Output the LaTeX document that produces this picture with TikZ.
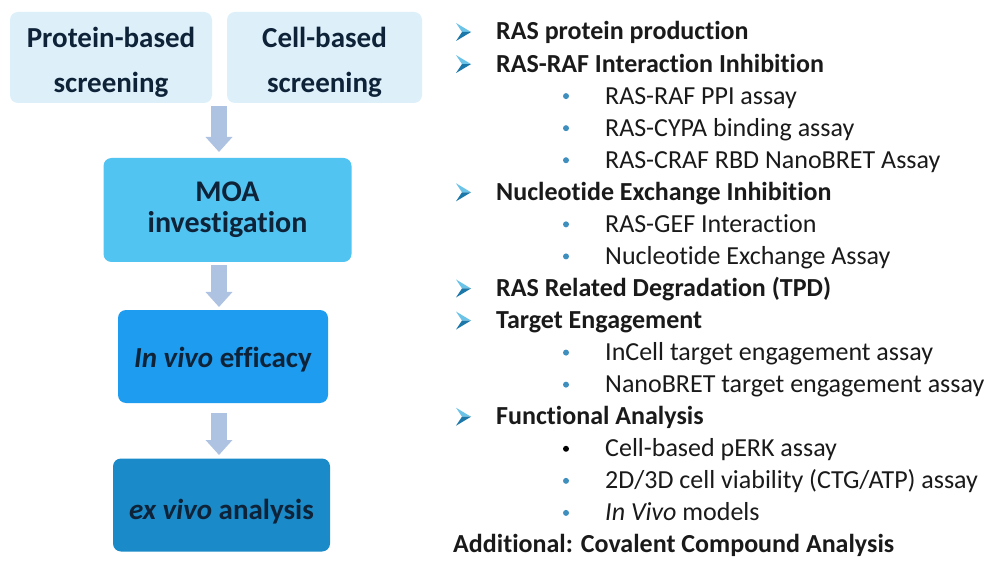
\documentclass[tikz,border=0pt]{standalone}
\usepackage{fontspec}
\setmainfont{Carlito}[Ligatures=NoCommon]
\usetikzlibrary{arrows.meta,calc}
\definecolor{boxA}{HTML}{DDF0FA}
\definecolor{boxB}{HTML}{52C4F2}
\definecolor{boxC}{HTML}{1E9DF0}
\definecolor{boxD}{HTML}{1A8BC8}
\definecolor{boxtext}{HTML}{0E2238}
\definecolor{listtext}{HTML}{1A1A1A}
\definecolor{arrowc}{HTML}{AEC2E2}
\definecolor{mkl}{HTML}{6CC3E8}
\definecolor{mkd}{HTML}{1B78A8}
\definecolor{bul}{HTML}{3E8EBE}
\begin{document}
\begin{tikzpicture}[x=1pt,y=-1pt,
  box/.style={rounded corners=8pt, inner sep=0pt, align=center, text=boxtext},
  boxfont/.style={font=\fontsize{29}{#1}\selectfont\bfseries},
  flow/.style={line width=16pt, draw=arrowc, -{Triangle[width=26pt,length=15pt]}},
  head/.style={anchor=base west, font=\fontsize{26}{30}\selectfont\bfseries, text=listtext, inner sep=0pt},
  sub/.style={anchor=base west, font=\fontsize{26}{30}\selectfont, text=listtext, inner sep=0pt},
  dotb/.style={circle, fill=bul, inner sep=0pt, minimum size=6pt},
]
\useasboundingbox (0,0) rectangle (993,561);
\fill[white] (0,0) rectangle (993,561);

% flow boxes
\node[box, boxfont=45, fill=boxA, minimum width=202pt, minimum height=91pt] (prot) at (111,57.5) {\rule{0pt}{29pt}Protein-based\\screening};
\node[box, boxfont=45, fill=boxA, minimum width=195pt, minimum height=91pt] (cell) at (324.5,57.5) {\rule{0pt}{29pt}Cell-based\\screening};
\node[box, boxfont=31, fill=boxB, minimum width=248pt, minimum height=104pt, font=\fontsize{30}{31}\selectfont\bfseries] (moa) at (227.5,210) {MOA\\investigation};
\node[box, boxfont=34, fill=boxC, minimum width=210pt, minimum height=93pt] (inv) at (223,356.5) {\rule{0pt}{27pt}\textit{In vivo} efficacy};
\node[box, boxfont=34, fill=boxD, minimum width=217pt, minimum height=93pt] (exv) at (221.5,505) {\rule{0pt}{33pt}\textit{ex vivo} analysis};

\coordinate (top) at (219,106);
\coordinate (a2) at (219,265);
\coordinate (a3) at (219,413);
\draw[flow] (top) -- (top |- 0,152);
\draw[flow] (a2) -- (a2 |- 0,307);
\draw[flow] (a3) -- (a3 |- 0,455);

% list
\foreach \i/\t in {1/{RAS protein production}, 2/{RAS-RAF Interaction Inhibition}, 6/{Nucleotide Exchange Inhibition}, 9/{RAS Related Degradation (TPD)}, 10/{Target Engagement}, 13/{Functional Analysis}}{
  \pgfmathsetmacro{\yy}{40+32.06*(\i-1)}
  \node[head] (h\i) at (496,\yy) {\t};
  \fill[mkl] ($(h\i.base west)+(-25,-8)$) -- ++(-15,-9) -- ++(6,9) -- cycle;
  \fill[mkd] ($(h\i.base west)+(-25,-8)$) -- ++(-9,0) -- ++(-6,9) -- cycle;
}
\foreach \i/\t/\c in {3/{RAS-RAF PPI assay}/bul, 4/{RAS-CYPA binding assay}/bul, 5/{RAS-CRAF RBD NanoBRET Assay}/bul, 7/{RAS-GEF Interaction}/bul, 8/{Nucleotide Exchange Assay}/bul, 11/{InCell target engagement assay}/bul, 12/{NanoBRET target engagement assay}/bul, 14/{Cell-based pERK assay}/black, 15/{2D/3D cell viability (CTG/ATP) assay}/bul, 16/{\textit{In Vivo} models}/bul}{
  \pgfmathsetmacro{\yy}{40+32.06*(\i-1)}
  \node[sub] (s\i) at (605,\yy) {\t};
  \node[dotb, fill=\c] (d\i) at (566,\yy-8) {};
}
\node[head] (add) at (453,{40+32.06*16}) {Additional: Covalent Compound Analysis};
\end{tikzpicture}
\end{document}
